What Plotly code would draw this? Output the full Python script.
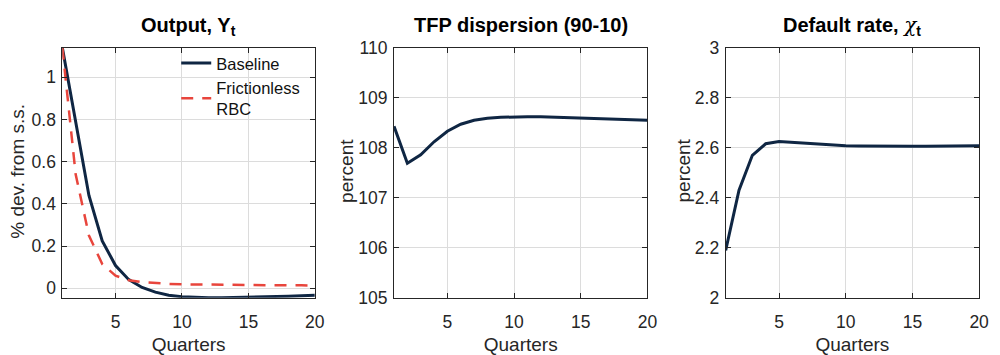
import plotly.graph_objects as go

# ---------------- data ----------------
quarters = list(range(1, 21))
baseline_output = [1.14, 0.78, 0.44, 0.225, 0.108, 0.041, 0.004, -0.018, -0.033, -0.040,
                   -0.044, -0.045, -0.045, -0.044, -0.043, -0.041, -0.039, -0.037, -0.035, -0.033]
frictionless_output = [1.14, 0.54, 0.25, 0.115, 0.060, 0.038, 0.029, 0.024, 0.021, 0.019,
                       0.018, 0.017, 0.016, 0.016, 0.015, 0.015, 0.014, 0.014, 0.014, 0.013]
tfp_dispersion = [108.43, 107.69, 107.86, 108.12, 108.33, 108.47, 108.55, 108.59, 108.61, 108.62,
                  108.62, 108.62, 108.61, 108.61, 108.60, 108.59, 108.58, 108.57, 108.56, 108.55]
default_rate = [2.19, 2.43, 2.57, 2.616, 2.625, 2.622, 2.617, 2.613, 2.610, 2.608,
                2.607, 2.606, 2.606, 2.606, 2.606, 2.606, 2.607, 2.607, 2.608, 2.608]

x_ticks = [5, 10, 15, 20]
y1_ticks = [0, 0.2, 0.4, 0.6, 0.8, 1]
y2_ticks = [105, 106, 107, 108, 109, 110]
y3_ticks = [2, 2.2, 2.4, 2.6, 2.8, 3]
y3_ticklabels = ["2", "2.2", "2.4", "2.6", "2.8", "3"]

titles = ["<b>Output, Y<sub>t</sub></b>",
          "<b>TFP dispersion (90-10)</b>",
          "<b>Default rate, </b><span style='font-family:DejaVu Serif'><i>χ</i></span><b><sub>t</sub></b>"]
y_labels = ["% dev. from s.s.", "percent", "percent"]

# ---------------- style ----------------
FONT = "Liberation Sans, Arial, sans-serif"
NAVY = "#0f2643"
RED = "#e8453c"
AXC = "#262626"
GRID = "#dcdcdc"
W, H = 1000, 355
TICK_SIZE = 17.5
LABEL_SIZE = 19

doms_x = [(63 / W, 318 / W), (398 / W, 654 / W), (733 / W, 989 / W)]
dom_y = (1 - 305 / H, 1 - 40 / H)
ylabel_x = [18 / W, 350.5 / W, 690.5 / W]
title_bottom_px = [33, 30, 33]

fig = go.Figure()
fig.add_trace(go.Scatter(x=quarters, y=baseline_output, mode="lines", name="Baseline",
                         line=dict(color=NAVY, width=3), xaxis="x", yaxis="y"))
fig.add_trace(go.Scatter(x=quarters, y=frictionless_output, mode="lines", name="Frictionless<br>RBC",
                         line=dict(color=RED, width=2.5, dash="12px,9px"), xaxis="x", yaxis="y"))
fig.add_trace(go.Scatter(x=quarters, y=tfp_dispersion, mode="lines", showlegend=False,
                         line=dict(color=NAVY, width=3), xaxis="x2", yaxis="y2"))
fig.add_trace(go.Scatter(x=quarters, y=default_rate, mode="lines", showlegend=False,
                         line=dict(color=NAVY, width=3), xaxis="x3", yaxis="y3"))


def xax(i):
    return dict(domain=doms_x[i], range=[1, 20], tickvals=x_ticks, showgrid=True, gridcolor=GRID,
                gridwidth=1, showline=True, linecolor=AXC, linewidth=1, mirror="ticks",
                ticks="inside", ticklen=5, tickcolor=AXC, zeroline=False,
                ticklabelstandoff=8,
                tickfont=dict(family=FONT, size=TICK_SIZE, color=AXC),
                title=dict(text="Quarters", font=dict(family=FONT, size=LABEL_SIZE, color=AXC), standoff=10),
                anchor="y" if i == 0 else f"y{i+1}")


def yax(i, rng, tv, tt=None):
    d = dict(domain=dom_y, range=rng, tickvals=tv, showgrid=True, gridcolor=GRID, gridwidth=1,
             showline=True, linecolor=AXC, linewidth=1, mirror="ticks", ticks="inside", ticklen=5,
             tickcolor=AXC, zeroline=False, tickfont=dict(family=FONT, size=TICK_SIZE, color=AXC),
             ticklabelstandoff=2,
             anchor="x" if i == 0 else f"x{i+1}")
    if tt is not None:
        d["ticktext"] = tt
    return d


fig.update_layout(
    width=W, height=H, margin=dict(l=0, r=0, t=0, b=0),
    paper_bgcolor="white", plot_bgcolor="white",
    font=dict(family=FONT, color=AXC),
    xaxis=xax(0), xaxis2=xax(1), xaxis3=xax(2),
    yaxis=yax(0, [-0.045, 1.14], y1_ticks),
    yaxis2=yax(1, [105, 110], y2_ticks),
    yaxis3=yax(2, [2, 3], y3_ticks, y3_ticklabels),
    legend=dict(x=0.178, y=1 - 38 / H, xanchor="left", yanchor="top", bgcolor="rgba(0,0,0,0)",
                borderwidth=0, font=dict(family=FONT, size=16.5, color="#111111"),
                tracegroupgap=0, itemwidth=30),
    showlegend=True,
)

for i, t in enumerate(titles):
    fig.add_annotation(text=t, x=(doms_x[i][0] + doms_x[i][1]) / 2, y=1 - title_bottom_px[i] / H,
                       xref="paper", yref="paper", xanchor="center", yanchor="bottom",
                       showarrow=False, font=dict(family=FONT, size=20, color="#000000"))

for i, lab in enumerate(y_labels):
    fig.add_annotation(text=lab, x=ylabel_x[i], y=(dom_y[0] + dom_y[1]) / 2 + 2 / H,
                       xref="paper", yref="paper", xanchor="center", yanchor="middle",
                       textangle=-90, showarrow=False,
                       font=dict(family=FONT, size=LABEL_SIZE, color=AXC))

fig.write_html("out.html")
